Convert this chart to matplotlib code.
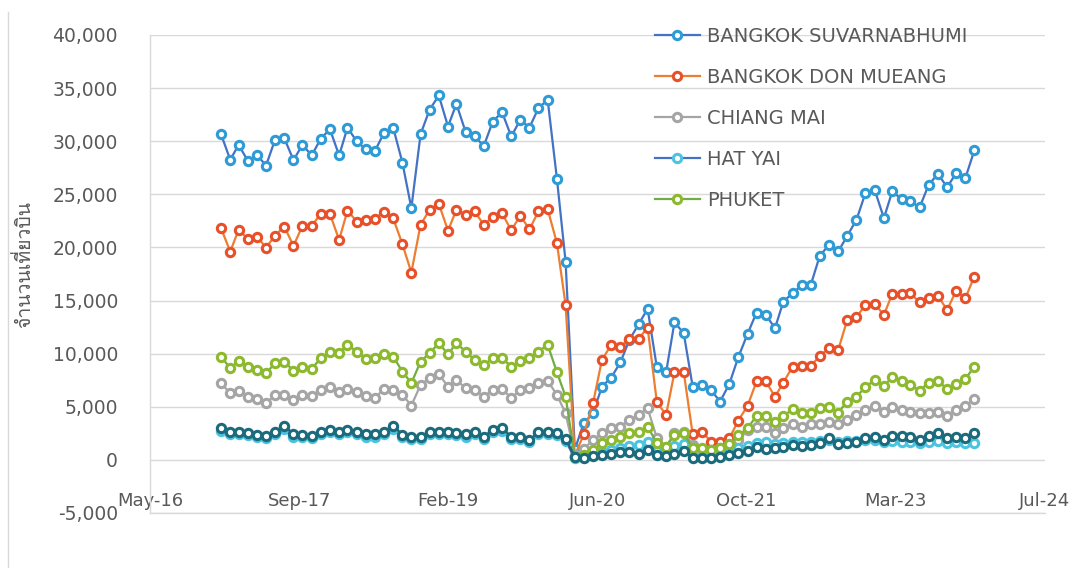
import matplotlib
matplotlib.use("Agg")
import matplotlib.pyplot as plt
import matplotlib.dates as mdates
from matplotlib import font_manager, ft2font
from matplotlib.lines import Line2D
import numpy as np
import pandas as pd

# monthly series, Jan 2017 - Dec 2023
months = pd.date_range("2017-01-01", "2023-12-01", freq="MS")

suvarnabhumi = [30665, 28250, 29660, 28150, 28720, 27710, 30130, 30290, 28220, 29660, 28660, 30225,
                31135, 28660, 31290, 29975, 29250, 29095, 30760, 31290, 27995, 23700, 30665, 32955,
                34305, 31385, 33520, 30870, 30445, 29565, 31855, 32735, 30445, 32015, 31290, 33115,
                33900, 26460, 18675, 1000, 3450, 4400, 6900, 7750, 9200, 11300, 12780, 14220,
                8700, 8250, 12960, 11930, 6900, 7060, 6590, 5490, 7160, 9670, 11860, 13870,
                13650, 12400, 14910, 15690, 16420, 16480, 19210, 20240, 19620, 21090, 22600, 25110,
                25420, 22760, 25270, 24550, 24330, 23790, 25890, 26930, 25670, 26990, 26520, 29130]

don_mueang = [21815, 19615, 21660, 20810, 21030, 19990, 21120, 21970, 20150, 22030, 22030, 23165,
              23165, 20715, 23475, 22440, 22600, 22690, 23380, 22755, 20310, 17640, 22130, 23540,
              24105, 21590, 23540, 23070, 23400, 22130, 22910, 23230, 21600, 23000, 21700, 23400,
              23600, 20400, 14600, 400, 2420, 5340, 9420, 10830, 10670, 11400, 11400, 12460,
              5430, 4240, 8260, 8260, 2420, 2670, 1730, 1700, 2040, 3700, 5090, 7380,
              7380, 5960, 7280, 8790, 8850, 8850, 9790, 10520, 10360, 13180, 13430, 14600,
              14690, 13650, 15630, 15630, 15690, 14820, 15220, 15440, 14120, 15910, 15220, 17260]

chiang_mai = [7220, 6280, 6500, 5960, 5750, 5340, 6120, 6120, 5650, 6120, 6060, 6590,
              6900, 6430, 6690, 6370, 6060, 5810, 6690, 6590, 6120, 5120, 7060, 7690,
              8070, 6900, 7530, 6750, 6590, 5960, 6590, 6690, 5810, 6590, 6750, 7220,
              7440, 6120, 4390, 500, 1000, 1900, 2510, 2980, 3140, 3770, 4240, 4870,
              2040, 1260, 2510, 2670, 1410, 1000, 900, 1100, 1300, 1900, 2800, 3140,
              3080, 2570, 2980, 3390, 3140, 3390, 3390, 3520, 3390, 3770, 4240, 4710,
              5090, 4550, 4960, 4710, 4550, 4460, 4390, 4550, 4140, 4710, 5090, 5710]

hat_yai = [2700, 2400, 2450, 2300, 2150, 2100, 2450, 2900, 2200, 2150, 2100, 2450,
           2600, 2450, 2600, 2400, 2200, 2200, 2450, 2950, 2150, 2000, 2000, 2450,
           2450, 2450, 2300, 2200, 2400, 2000, 2600, 2750, 2000, 2000, 1700, 2400,
           2450, 2300, 1800, 150, 250, 500, 700, 900, 1100, 1300, 1400, 1700,
           800, 600, 1300, 1500, 400, 300, 350, 500, 800, 1100, 1300, 1600,
           1700, 1500, 1600, 1700, 1650, 1700, 1750, 1900, 1700, 1750, 1800, 1850,
           1900, 1650, 1750, 1700, 1650, 1600, 1700, 1750, 1600, 1700, 1550, 1600]

phuket = [9730, 8630, 9320, 8790, 8480, 8160, 9100, 9260, 8380, 8790, 8570, 9570,
          10200, 10050, 10830, 10200, 9510, 9570, 9950, 9730, 8320, 7220, 9260, 10050,
          10990, 9950, 10990, 10200, 9420, 8950, 9570, 9570, 8790, 9320, 9570, 10200,
          10830, 8260, 5960, 300, 500, 900, 1570, 1880, 2200, 2510, 2670, 3140,
          1570, 1260, 2350, 2510, 1100, 1100, 940, 1100, 1500, 2300, 2980, 4140,
          4140, 3520, 4140, 4770, 4460, 4460, 4870, 4960, 4460, 5490, 5960, 6840,
          7530, 6970, 7780, 7470, 7060, 6530, 7280, 7470, 6650, 7160, 7600, 8790]

# sixth series (its legend entry is cut off in the original)
other = [3040, 2670, 2670, 2510, 2360, 2290, 2670, 3230, 2420, 2360, 2290, 2670,
         2830, 2670, 2830, 2610, 2420, 2420, 2670, 3230, 2360, 2200, 2200, 2670,
         2670, 2670, 2510, 2420, 2610, 2200, 2830, 2980, 2200, 2200, 1880, 2610,
         2670, 2510, 1980, 310, 160, 410, 470, 530, 720, 720, 530, 940,
         470, 410, 530, 790, 220, 160, 220, 310, 470, 690, 790, 1260,
         1000, 1100, 1260, 1410, 1320, 1410, 1570, 2040, 1510, 1570, 1730, 2040,
         2200, 1880, 2260, 2260, 2130, 1880, 2260, 2510, 2040, 2200, 2040, 2570]

labels = ["BANGKOK SUVARNABHUMI", "BANGKOK DON MUEANG", "CHIANG MAI", "HAT YAI", "PHUKET", "_nolegend_"]
line_colors = ["#4472C4", "#ED7D31", "#A5A5A5", "#4472C4", "#70AD47", "#22647A"]
marker_colors = ["#2E9BD6", "#E8502A", "#A5A5A5", "#4CC3E0", "#8DB92E", "#1B6B7C"]

# find a font that has Thai glyphs for the y label
thai_font = "DejaVu Sans"
for f in font_manager.fontManager.ttflist:
    try:
        if 0x0E08 in ft2font.FT2Font(f.fname).get_charmap():
            thai_font = f.name
            break
    except Exception:
        pass

text_color = "#595959"
grid_color = "#D9D9D9"

fig = plt.figure(figsize=(10.91, 5.68), dpi=100)
ax = fig.add_axes([150 / 1091, 1 - 513 / 568, (1045 - 150) / 1091, (513 - 35) / 568])

series = [suvarnabhumi, don_mueang, chiang_mai, hat_yai, phuket, other]
for vals, lab, lc, mc in zip(series, labels, line_colors, marker_colors):
    ax.plot(months, vals, color=lc, lw=1.6, marker="o", ms=6, mfc="white",
            mec=mc, mew=2.2, label=lab)

start = pd.Timestamp("2016-05-08")
ticks = [start + pd.Timedelta(days=500 * k) for k in range(7)]
ax.set_xlim(ticks[0], ticks[-1])
ax.set_xticks(ticks)
ax.xaxis.set_major_formatter(mdates.DateFormatter("%b-%y"))

ax.set_ylim(-5000, 40000)
ax.set_yticks(np.arange(-5000, 40001, 5000))
ax.set_yticklabels([f"{v:,}" for v in range(-5000, 40001, 5000)])

ax.grid(axis="y", color=grid_color, lw=1)
ax.set_axisbelow(True)
for s in ["top", "right"]:
    ax.spines[s].set_visible(False)
for s in ["left", "bottom"]:
    ax.spines[s].set_color(grid_color)
    ax.spines[s].set_linewidth(1)

ax.tick_params(axis="x", length=0, pad=-15, labelsize=13, labelcolor=text_color)
ax.tick_params(axis="y", length=0, pad=23, labelsize=13.5, labelcolor=text_color)

fig.text(24 / 1091, 1 - 265 / 568, "จำนวนเที่ยวบิน", rotation=90, ha="center", va="center",
         fontsize=14, color=text_color, family=[thai_font, "DejaVu Sans"])

leg = ax.legend(loc="upper left", bbox_to_anchor=(655 / 1091, 1 - 27 / 568),
                bbox_transform=fig.transFigure, frameon=False, fontsize=14,
                handlelength=2.3, handletextpad=0.36, labelspacing=1.13,
                borderpad=0, borderaxespad=0)
for t in leg.get_texts():
    t.set_color(text_color)

fig.add_artist(Line2D([8 / 1091, 8 / 1091], [0, 1 - 12 / 568], color=grid_color, lw=1,
                      transform=fig.transFigure))

fig.savefig("out.png", dpi=100)
